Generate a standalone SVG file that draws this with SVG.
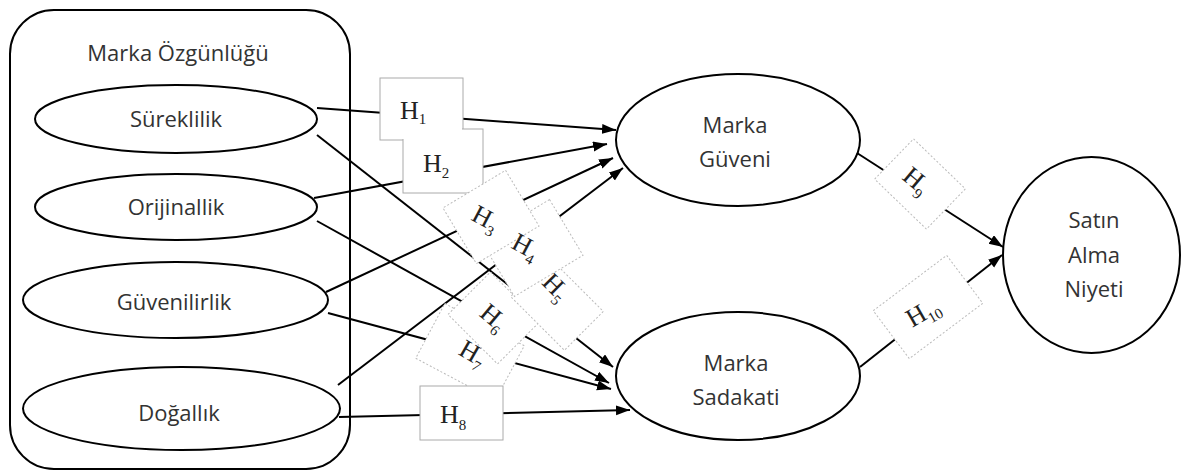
<svg xmlns="http://www.w3.org/2000/svg" width="1186" height="472" viewBox="0 0 1186 472">
<defs>
<marker id="arr" markerUnits="userSpaceOnUse" markerWidth="16" markerHeight="12" refX="14" refY="5" orient="auto">
<path d="M0,0 L14,5 L0,10 z" fill="#000"/>
</marker>
<style>
.shape{fill:#fff;stroke:#000;stroke-width:2}
.lbl{font-family:"Open Sans","Liberation Sans",sans-serif;font-size:22px;fill:#333;text-anchor:middle}
.conn{stroke:#000;stroke-width:2;fill:none;marker-end:url(#arr)}
.hbox{fill:#fff;stroke:#aaa;stroke-width:1}
.hrot{fill:#fff;stroke:#bbb;stroke-width:1;stroke-dasharray:2 2}
.h{font-family:"Liberation Serif","Times New Roman",serif;font-size:26px;fill:#222}
.hs{font-size:15px}
</style>
</defs>
<rect width="1186" height="472" fill="#fff"/>

<g id="marka-ozgunlugu">
<rect class="shape" x="10" y="10" width="340" height="459" rx="44" ry="44"/>
<text class="lbl" x="178" y="61">Marka Özgünlüğü</text>
</g>
<g id="sureklilik">
<ellipse class="shape" cx="176" cy="119" rx="141" ry="34"/>
<text class="lbl" x="176" y="127">Süreklilik</text>
</g>
<g id="orijinallik">
<ellipse class="shape" cx="176" cy="207" rx="141" ry="33"/>
<text class="lbl" x="176" y="215">Orijinallik</text>
</g>
<g id="guvenilirlik">
<ellipse class="shape" cx="175.5" cy="300" rx="152.5" ry="38"/>
<text class="lbl" x="174" y="310">Güvenilirlik</text>
</g>
<g id="dogallik">
<ellipse class="shape" cx="181.5" cy="408.5" rx="158.5" ry="41.5"/>
<text class="lbl" x="179" y="421">Doğallık</text>
</g>
<g id="marka-guveni">
<ellipse class="shape" cx="738" cy="140" rx="122" ry="66"/>
<text class="lbl" x="735" y="133">Marka</text>
<text class="lbl" x="735" y="167">Güveni</text>
</g>
<g id="marka-sadakati">
<ellipse class="shape" cx="738" cy="376" rx="122" ry="64"/>
<text class="lbl" x="736" y="371">Marka</text>
<text class="lbl" x="736" y="405">Sadakati</text>
</g>
<g id="satin-alma-niyeti">
<ellipse class="shape" cx="1091.5" cy="255" rx="88.5" ry="98"/>
<text class="lbl" x="1094" y="228">Satın</text>
<text class="lbl" x="1094" y="263">Alma</text>
<text class="lbl" x="1094" y="297">Niyeti</text>
</g>

<g id="connectors">
<line class="conn" x1="317" y1="108" x2="616" y2="130"/>
<line class="conn" x1="314" y1="198" x2="607" y2="144"/>
<line class="conn" x1="326" y1="292" x2="613" y2="158"/>
<line class="conn" x1="338" y1="385" x2="623" y2="168"/>
<line class="conn" x1="317" y1="135" x2="613" y2="367"/>
<line class="conn" x1="317" y1="221" x2="609" y2="383"/>
<line class="conn" x1="328" y1="313" x2="611" y2="389"/>
<line class="conn" x1="339" y1="417" x2="630" y2="410"/>
<line class="conn" x1="857" y1="153" x2="1003" y2="247"/>
<line class="conn" x1="860" y1="367" x2="1002" y2="255"/>
</g>

<g id="labels">
<g id="h1">
<rect class="hbox" x="380" y="78" width="83" height="62"/>
</g>
<g id="h2">
<rect class="hbox" x="403" y="129" width="80" height="64"/>
<rect x="381" y="79" width="81" height="60" fill="#fff"/>
<text class="h" x="400" y="119">H<tspan class="hs" dy="5">1</tspan></text>
<text class="h" x="423" y="172">H<tspan class="hs" dy="6">2</tspan></text>
</g>
<g id="h7" transform="translate(470,352) rotate(28)">
<rect class="hrot" x="-45" y="-31" width="90" height="62"/>
<text class="h" x="-10" y="8" transform="rotate(2)">H<tspan class="hs" dy="6">7</tspan></text>
</g>
<g id="h6" transform="translate(494,318) rotate(45)">
<rect class="hrot" x="-35" y="-30" width="70" height="60"/>
<text class="h" x="-14" y="8" transform="rotate(-5)">H<tspan class="hs" dy="6">6</tspan></text>
</g>
<g id="h5" transform="translate(557,304) rotate(45)">
<rect class="hrot" x="-38" y="-27.5" width="76" height="55"/>
<text class="h" x="-26" y="-3">H<tspan class="hs" dy="6">5</tspan></text>
</g>
<g id="h4" transform="translate(532,248) rotate(59)">
<rect class="hrot" x="-32.5" y="-40" width="65" height="80"/>
</g>
<g id="h3" transform="translate(491,217) rotate(59)">
<rect class="hrot" x="-32.5" y="-36.5" width="65" height="73"/>
</g>
<text class="h" transform="translate(488,220) rotate(28)" x="-16" y="8">H<tspan class="hs" dy="6">3</tspan></text>
<text class="h" transform="translate(528,248) rotate(28)" x="-16" y="8">H<tspan class="hs" dy="6">4</tspan></text>
<g id="h8">
<rect class="hbox" x="420" y="386" width="83" height="54"/>
<text class="h" x="440" y="423">H<tspan class="hs" dy="7">8</tspan></text>
</g>
<g id="h9" transform="translate(920,184) rotate(44)">
<rect class="hrot" x="-36" y="-28" width="72" height="56"/>
<text class="h" x="-18" y="8" transform="rotate(-4)">H<tspan class="hs" dy="6">9</tspan></text>
</g>
<g id="h10" transform="translate(928,307) rotate(-37)">
<rect class="hrot" x="-46" y="-30" width="92" height="60"/>
<text class="h" x="-24" y="10" transform="rotate(7)">H<tspan class="hs" dy="6">10</tspan></text>
</g>
</g>
</svg>
